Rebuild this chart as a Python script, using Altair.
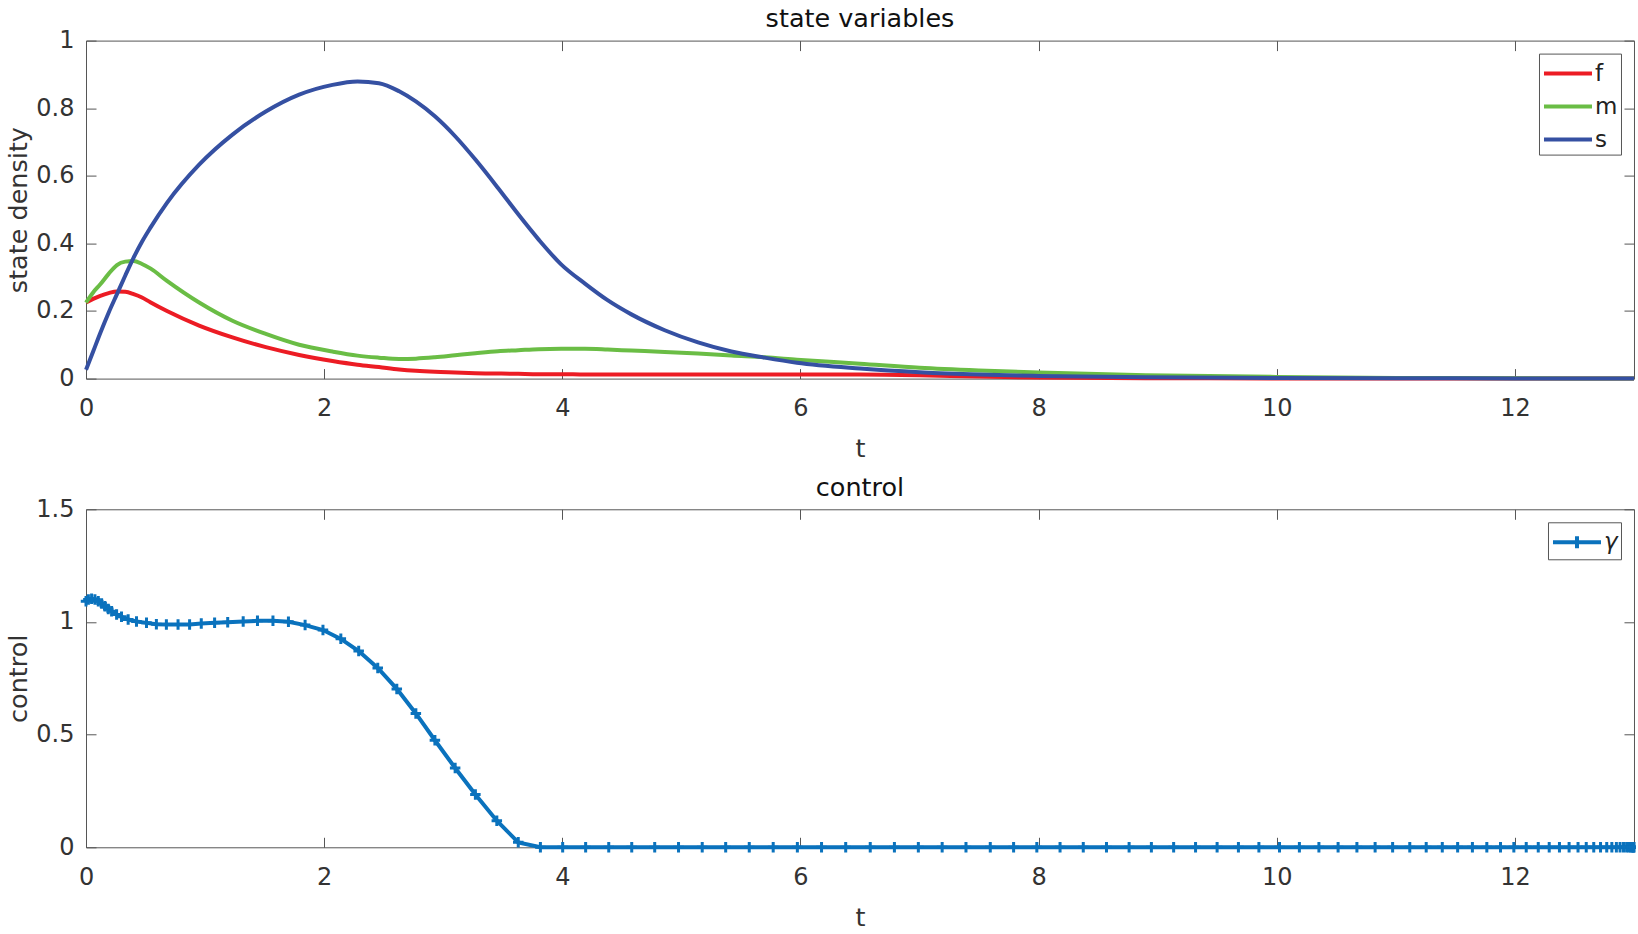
import altair as alt
import pandas as pd

# ---------------- data ----------------
t_state = [0, 0.06, 0.12, 0.19, 0.26, 0.33, 0.40, 0.47, 0.54, 0.68, 0.95, 1.23, 1.51, 1.79,
           2.07, 2.28, 2.46, 2.63, 2.77, 2.93, 3.10, 3.27, 3.46, 3.63,
           3.80, 3.99, 4.19, 4.38, 4.58, 4.86, 5.14, 5.42, 5.70, 5.97,
           6.5, 7.0, 7.5, 8.0, 8.9, 10.0, 11.0, 12.0, 13.0]

f_vals = [0.225, 0.236, 0.245, 0.253, 0.258, 0.257, 0.25, 0.24, 0.226, 0.2, 0.157, 0.122, 0.093, 0.07,
          0.052, 0.041, 0.034, 0.027, 0.023, 0.02, 0.018, 0.016, 0.015, 0.014,
          0.013, 0.013, 0.012, 0.012, 0.012, 0.012, 0.012, 0.012, 0.012, 0.012,
          0.012, 0.01, 0.006, 0.003, 0.001, 0.0005, 0.0, 0.0, 0.0]

m_vals = [0.225, 0.255, 0.279, 0.31, 0.336, 0.346, 0.348, 0.339, 0.326, 0.289, 0.225, 0.171, 0.132, 0.1,
          0.08, 0.068, 0.062, 0.058, 0.059, 0.063, 0.069, 0.075, 0.081, 0.084,
          0.087, 0.088, 0.088, 0.086, 0.083, 0.079, 0.074, 0.068, 0.063, 0.056,
          0.044, 0.032, 0.024, 0.018, 0.01, 0.005, 0.002, 0.001, 0.0]

s_vals = [0.026, 0.08, 0.135, 0.195, 0.25, 0.305, 0.358, 0.405, 0.446, 0.52, 0.633, 0.722, 0.79, 0.84,
          0.869, 0.879, 0.874, 0.85, 0.82, 0.776, 0.717, 0.648, 0.564, 0.486,
          0.412, 0.338, 0.281, 0.232, 0.19, 0.143, 0.107, 0.08, 0.062, 0.047,
          0.03, 0.019, 0.012, 0.008, 0.004, 0.002, 0.001, 0.0005, 0.0]

state_names = ["f", "m", "s"]
state_colors = ["#ec1c24", "#6abd45", "#3550a2"]

t_ctrl = [0, 0.02, 0.047, 0.075, 0.103, 0.131, 0.159, 0.187, 0.215, 0.257,
          0.298, 0.354, 0.424, 0.508, 0.591, 0.675, 0.773, 0.87, 0.968, 1.08,
          1.19, 1.32, 1.44, 1.57, 1.70, 1.84, 1.99, 2.14, 2.29, 2.45,
          2.61, 2.77, 2.93, 3.10, 3.27, 3.45, 3.63,
          3.816, 4.003, 4.196, 4.39, 4.583, 4.776, 4.976, 5.175, 5.372, 5.57,
          5.771, 5.974, 6.177, 6.38, 6.586, 6.789, 6.99, 7.19, 7.39, 7.594,
          7.79, 7.985, 8.18, 8.375, 8.57, 8.76, 8.947, 9.134, 9.318, 9.499,
          9.678, 9.85, 10.023, 10.19, 10.354, 10.515, 10.673, 10.826, 10.973, 11.117,
          11.255, 11.39, 11.519, 11.643, 11.764, 11.879, 11.991, 12.095, 12.196, 12.288,
          12.374, 12.455, 12.53, 12.599, 12.662, 12.719, 12.771, 12.814, 12.852, 12.883,
          12.912, 12.938, 12.958, 12.973, 12.984, 12.992, 12.997, 13.0]

gamma_vals = [1.092, 1.10, 1.103, 1.10, 1.092, 1.082, 1.07, 1.058, 1.048, 1.033,
              1.023, 1.011, 1.002, 0.996, 0.99, 0.989, 0.989, 0.989, 0.993, 0.996,
              0.999, 1.002, 1.005, 1.005, 1.001, 0.986, 0.964, 0.925, 0.871, 0.796,
              0.703, 0.594, 0.475, 0.352, 0.234, 0.118, 0.022,
              0, 0, 0, 0, 0, 0, 0, 0, 0, 0,
              0, 0, 0, 0, 0, 0, 0, 0, 0, 0,
              0, 0, 0, 0, 0, 0, 0, 0, 0, 0,
              0, 0, 0, 0, 0, 0, 0, 0, 0, 0,
              0, 0, 0, 0, 0, 0, 0, 0, 0, 0,
              0, 0, 0, 0, 0, 0, 0, 0, 0, 0,
              0, 0, 0, 0, 0, 0, 0, 0]

x_ticks = [0, 2, 4, 6, 8, 10, 12]
y_ticks_state = [0, 0.2, 0.4, 0.6, 0.8, 1]
y_ticks_ctrl = [0, 0.5, 1, 1.5]

# ---------------- tables ----------------
state_df = pd.DataFrame({
    "t": t_state * 3,
    "value": f_vals + m_vals + s_vals,
    "series": ["f"] * len(t_state) + ["m"] * len(t_state) + ["s"] * len(t_state),
})
ctrl_df = pd.DataFrame({"t": t_ctrl, "value": gamma_vals, "ctrl": ["γ"] * len(t_ctrl)})

# ---------------- style ----------------
FONT = "DejaVu Sans"
BOX = "#555555"
TXT = "#333333"
W, H = 1548, 338
TICK = 10


def ax_bottom(vals, title):
    return alt.Axis(orient="bottom", offset=-TICK, tickSize=TICK, domain=False, values=vals,
                    labelPadding=18, labelFlush=False, labelOverlap=False, title=title,
                    titlePadding=16, format="~g")


def ax_left(vals, title):
    return alt.Axis(orient="left", offset=-TICK, tickSize=TICK, domain=False, values=vals,
                    labelPadding=12, labelFlush=False, labelOverlap=False, title=title,
                    titlePadding=4, format="~g")


def ax_top(vals):
    return alt.Axis(orient="top", offset=-TICK, tickSize=TICK, domain=False, values=vals,
                    labels=False, title=None)


def ax_right(vals):
    return alt.Axis(orient="right", offset=-TICK, tickSize=TICK, domain=False, values=vals,
                    labels=False, title=None)


xscale = alt.Scale(domain=[0, 13], nice=False, zero=False)
yscale_s = alt.Scale(domain=[0, 1], nice=False)
yscale_c = alt.Scale(domain=[0, 1.5], nice=False)

legend_common = dict(title=None, orient="top-right", offset=13, symbolSize=900,
                     symbolStrokeWidth=4, labelOffset=19, padding=3,
                     strokeColor=BOX, fillColor="white", labelFont=FONT,
                     labelFontSize=23, labelColor="#222222", rowPadding=4, cornerRadius=0)

# ---------------- top panel ----------------
state_base = alt.Chart(state_df)
state_lines = state_base.mark_line(strokeWidth=4, interpolate="monotone").encode(
    x=alt.X("t:Q", scale=xscale, axis=ax_bottom(x_ticks, "t")),
    y=alt.Y("value:Q", scale=yscale_s, axis=ax_left(y_ticks_state, "state density")),
    color=alt.Color("series:N",
                    scale=alt.Scale(domain=state_names, range=state_colors),
                    legend=alt.Legend(symbolType="M-1,0L2.2,0", **legend_common)),
)
state_frame = state_base.mark_line(opacity=0).encode(
    x=alt.X("t:Q", scale=xscale, axis=ax_top(x_ticks)),
    y=alt.Y("value:Q", scale=yscale_s, axis=ax_right(y_ticks_state)),
    detail="series:N",
)
top = alt.layer(state_frame, state_lines).resolve_axis(x="independent", y="independent").properties(
    width=W, height=H,
    title=alt.TitleParams("state variables", anchor="middle", frame="group", offset=-3.5),
)

# ---------------- bottom panel ----------------
CBLUE = "#0a72bd"
ctrl_base = alt.Chart(ctrl_df)
ctrl_line = ctrl_base.mark_line(strokeWidth=4).encode(
    x=alt.X("t:Q", scale=xscale, axis=ax_bottom(x_ticks, "t")),
    y=alt.Y("value:Q", scale=yscale_c, axis=ax_left(y_ticks_ctrl, "control")),
    color=alt.Color("ctrl:N", scale=alt.Scale(domain=["γ"], range=[CBLUE]),
                    legend=alt.Legend(symbolType="M-1,0L2.2,0M0.6,-0.4L0.6,0.4",
                                      labelFontStyle="italic", **legend_common)),
)
ctrl_pts = ctrl_base.mark_point(shape="M-1,0L1,0M0,-1L0,1", size=110, strokeWidth=3,
                                filled=False, opacity=1, color=CBLUE).encode(
    x=alt.X("t:Q", scale=xscale, axis=ax_top(x_ticks)),
    y=alt.Y("value:Q", scale=yscale_c, axis=ax_right(y_ticks_ctrl)),
)
bottom = alt.layer(ctrl_line, ctrl_pts).resolve_axis(x="independent", y="independent").properties(
    width=W, height=H,
    title=alt.TitleParams("control", anchor="middle", frame="group", offset=-4.5),
)

chart = alt.vconcat(top, bottom, spacing=12.7).resolve_scale(color="independent").resolve_legend(
    color="independent"
).properties(
    padding={"left": 6, "top": 5.6, "right": -10, "bottom": 0},
    background="white",
).configure_view(stroke=BOX, strokeWidth=1).configure_axis(
    labelFont=FONT, titleFont=FONT, labelFontSize=24, titleFontSize=25.5,
    labelColor=TXT, titleColor=TXT, titleFontWeight="normal",
    tickColor=BOX, tickWidth=1, grid=False,
).configure_title(font=FONT, fontSize=25.5, fontWeight="normal", color="#111111")

chart.save("out.html", embed_options={"renderer": "svg", "actions": False})
